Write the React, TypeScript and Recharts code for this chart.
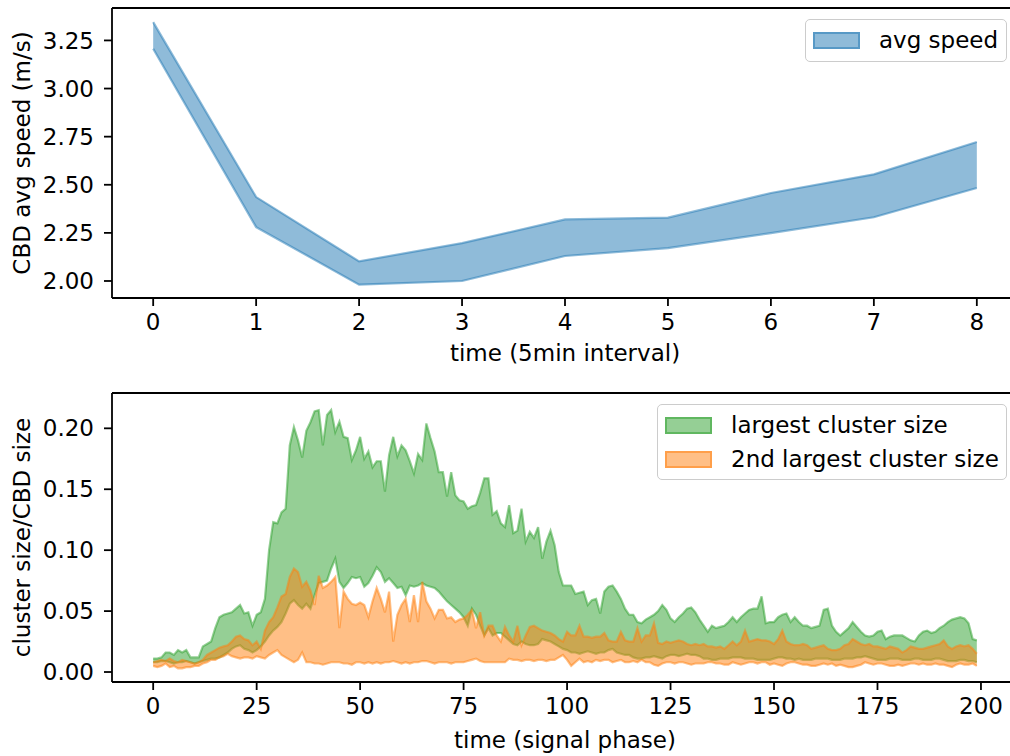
import React from 'react';
import { AreaChart, Area, XAxis, YAxis, Label } from 'recharts';

// top panel: avg speed band per 5-minute interval
const intervals = [0, 1, 2, 3, 4, 5, 6, 7, 8];
const speedLow = [3.207, 2.28, 1.981, 2.0, 2.13, 2.171, 2.249, 2.331, 2.483];
const speedHigh = [3.345, 2.436, 2.102, 2.197, 2.32, 2.329, 2.457, 2.554, 2.722];
const speedTicks = [2.0, 2.25, 2.5, 2.75, 3.0, 3.25];

// bottom panel: cluster size bands per signal phase (0..199)
const phaseTicks = [0, 25, 50, 75, 100, 125, 150, 175, 200];
const clusterTicks = [0, 0.05, 0.1, 0.15, 0.2];

const largestHigh = [
  0.011, 0.011, 0.012, 0.016, 0.016, 0.014, 0.018, 0.016, 0.018, 0.012,
  0.012, 0.012, 0.021, 0.023, 0.025, 0.036, 0.045, 0.047, 0.048, 0.049,
  0.052, 0.055, 0.048, 0.049, 0.038, 0.047, 0.049, 0.06, 0.1, 0.123,
  0.122, 0.131, 0.134, 0.186, 0.201, 0.19, 0.176, 0.198, 0.205, 0.214,
  0.215, 0.186, 0.211, 0.215, 0.197, 0.2055, 0.193, 0.192, 0.174, 0.182,
  0.193, 0.175, 0.181, 0.168, 0.173, 0.173, 0.148, 0.178, 0.193, 0.177,
  0.186, 0.182, 0.173, 0.163, 0.179, 0.174, 0.204, 0.192, 0.181, 0.164,
  0.164, 0.144, 0.164, 0.145, 0.141, 0.14, 0.134, 0.136, 0.137, 0.147,
  0.159, 0.159, 0.129, 0.132, 0.122, 0.119, 0.137, 0.114, 0.116, 0.134,
  0.107, 0.115, 0.11, 0.119, 0.093, 0.107, 0.116, 0.104, 0.082, 0.071,
  0.071, 0.071, 0.064, 0.065, 0.066, 0.055, 0.059, 0.06, 0.048, 0.066,
  0.07, 0.071, 0.066, 0.06, 0.052, 0.047, 0.047, 0.041, 0.04, 0.043,
  0.045, 0.047, 0.05, 0.055, 0.051, 0.044, 0.041, 0.045, 0.048, 0.052,
  0.053, 0.049, 0.043, 0.038, 0.033, 0.038, 0.036, 0.037, 0.038, 0.041,
  0.045, 0.041, 0.045, 0.048, 0.051, 0.052, 0.052, 0.062, 0.04, 0.041,
  0.041, 0.045, 0.047, 0.048, 0.041, 0.045, 0.041, 0.038, 0.038, 0.036,
  0.037, 0.038, 0.051, 0.052, 0.038, 0.033, 0.03, 0.033, 0.036, 0.041,
  0.037, 0.033, 0.03, 0.029, 0.03, 0.033, 0.034, 0.027, 0.029, 0.03,
  0.03, 0.03, 0.028, 0.026, 0.025, 0.03, 0.033, 0.034, 0.032, 0.033,
  0.036, 0.038, 0.041, 0.043, 0.044, 0.045, 0.044, 0.04, 0.027, 0.026,
];

const largestLow = [
  0.008, 0.008, 0.009, 0.009, 0.008, 0.007, 0.008, 0.008, 0.009, 0.008,
  0.007, 0.008, 0.009, 0.01, 0.011, 0.011, 0.012, 0.014, 0.016, 0.019,
  0.021, 0.022, 0.019, 0.018, 0.016, 0.018, 0.021, 0.025, 0.03, 0.034,
  0.037, 0.041, 0.048, 0.056, 0.059, 0.055, 0.052, 0.056, 0.052, 0.063,
  0.073, 0.074, 0.075, 0.085, 0.093, 0.074, 0.069, 0.073, 0.078, 0.077,
  0.078, 0.07, 0.073, 0.079, 0.086, 0.082, 0.074, 0.077, 0.073, 0.069,
  0.07, 0.063, 0.071, 0.07, 0.071, 0.073, 0.071, 0.07, 0.069, 0.066,
  0.062, 0.058, 0.055, 0.052, 0.049, 0.045, 0.038, 0.052, 0.047, 0.038,
  0.03, 0.036, 0.03, 0.032, 0.032, 0.029, 0.026, 0.023, 0.022, 0.025,
  0.023, 0.022, 0.022, 0.023, 0.027, 0.026, 0.025, 0.023, 0.021, 0.019,
  0.018, 0.016, 0.016, 0.015, 0.016, 0.017, 0.016, 0.015, 0.016, 0.016,
  0.018, 0.019, 0.016, 0.015, 0.014, 0.014, 0.012, 0.011, 0.011, 0.012,
  0.012, 0.013, 0.012, 0.011, 0.013, 0.014, 0.014, 0.013, 0.014, 0.015,
  0.014, 0.014, 0.013, 0.011, 0.011, 0.01, 0.01, 0.011, 0.011, 0.011,
  0.012, 0.012, 0.012, 0.011, 0.011, 0.011, 0.01, 0.01, 0.01, 0.01,
  0.011, 0.012, 0.012, 0.011, 0.011, 0.01, 0.011, 0.01, 0.01, 0.01,
  0.011, 0.011, 0.011, 0.011, 0.01, 0.01, 0.01, 0.011, 0.011, 0.011,
  0.012, 0.012, 0.013, 0.012, 0.011, 0.01, 0.01, 0.01, 0.011, 0.011,
  0.011, 0.01, 0.01, 0.01, 0.011, 0.011, 0.01, 0.01, 0.01, 0.011,
  0.011, 0.01, 0.009, 0.009, 0.009, 0.01, 0.01, 0.009, 0.009, 0.008,
];

const secondHigh = [
  0.008, 0.009, 0.01, 0.009, 0.011, 0.009, 0.008, 0.01, 0.009, 0.008,
  0.007, 0.008, 0.01, 0.014, 0.016, 0.018, 0.02, 0.021, 0.022, 0.025,
  0.029, 0.03, 0.027, 0.026, 0.022, 0.025, 0.019, 0.034, 0.041, 0.045,
  0.053, 0.062, 0.064, 0.078, 0.085, 0.082, 0.07, 0.074, 0.067, 0.055,
  0.079, 0.069, 0.071, 0.074, 0.078, 0.036, 0.066, 0.06, 0.056, 0.055,
  0.057, 0.055, 0.045, 0.058, 0.069, 0.06, 0.049, 0.066, 0.025, 0.047,
  0.055, 0.06, 0.041, 0.063, 0.041, 0.074, 0.058, 0.052, 0.044, 0.051,
  0.051, 0.044, 0.045, 0.041, 0.043, 0.044, 0.047, 0.051, 0.036, 0.049,
  0.03, 0.038, 0.038, 0.03, 0.025, 0.037, 0.03, 0.025, 0.038, 0.022,
  0.03, 0.037, 0.038, 0.036, 0.034, 0.033, 0.032, 0.03, 0.027, 0.025,
  0.033, 0.03, 0.03, 0.038, 0.029, 0.029, 0.028, 0.029, 0.029, 0.032,
  0.026, 0.025, 0.025, 0.033, 0.026, 0.025, 0.025, 0.036, 0.025, 0.03,
  0.03, 0.04, 0.024, 0.023, 0.025, 0.024, 0.025, 0.026, 0.025, 0.023,
  0.022, 0.023, 0.022, 0.023, 0.021, 0.021, 0.02, 0.021, 0.019, 0.022,
  0.025, 0.022, 0.025, 0.034, 0.025, 0.026, 0.027, 0.026, 0.026, 0.025,
  0.023, 0.027, 0.034, 0.025, 0.023, 0.022, 0.022, 0.023, 0.022, 0.019,
  0.02, 0.021, 0.022, 0.019, 0.018, 0.018, 0.019, 0.022, 0.023, 0.027,
  0.025, 0.023, 0.022, 0.023, 0.021, 0.021, 0.02, 0.019, 0.021, 0.02,
  0.019, 0.016, 0.018, 0.021, 0.02, 0.019, 0.019, 0.02, 0.021, 0.022,
  0.023, 0.026, 0.021, 0.019, 0.021, 0.022, 0.021, 0.022, 0.019, 0.015,
];

const secondLow = [
  0.005, 0.004, 0.005, 0.007, 0.004, 0.005, 0.003, 0.003, 0.004, 0.004,
  0.005, 0.005, 0.007, 0.008, 0.01, 0.01, 0.012, 0.013, 0.015, 0.013,
  0.012, 0.011, 0.012, 0.012, 0.011, 0.013, 0.012, 0.011, 0.014, 0.016,
  0.018, 0.014, 0.012, 0.01, 0.008, 0.01, 0.016, 0.008, 0.008, 0.007,
  0.007, 0.006, 0.007, 0.008, 0.008, 0.008, 0.007, 0.007, 0.006, 0.008,
  0.008, 0.007, 0.008, 0.007, 0.008, 0.007, 0.008, 0.008, 0.009, 0.008,
  0.007, 0.008, 0.007, 0.008, 0.008, 0.009, 0.009, 0.008, 0.007, 0.008,
  0.008, 0.008, 0.007, 0.008, 0.008, 0.008, 0.009, 0.01, 0.011, 0.009,
  0.008, 0.008, 0.008, 0.008, 0.008, 0.008, 0.011, 0.01, 0.01, 0.009,
  0.01, 0.01, 0.009, 0.01, 0.01, 0.009, 0.01, 0.01, 0.012, 0.014,
  0.01, 0.005, 0.008, 0.011, 0.008, 0.009, 0.008, 0.01, 0.009, 0.01,
  0.01, 0.008, 0.009, 0.01, 0.008, 0.008, 0.009, 0.008, 0.01, 0.008,
  0.008, 0.006, 0.005, 0.007, 0.008, 0.008, 0.007, 0.008, 0.008, 0.007,
  0.006, 0.007, 0.007, 0.007, 0.008, 0.008, 0.007, 0.007, 0.006, 0.006,
  0.008, 0.007, 0.006, 0.007, 0.008, 0.008, 0.007, 0.008, 0.008, 0.006,
  0.007, 0.006, 0.005, 0.007, 0.008, 0.008, 0.007, 0.006, 0.006, 0.005,
  0.005, 0.006, 0.007, 0.006, 0.007, 0.005, 0.006, 0.005, 0.004, 0.004,
  0.005, 0.006, 0.008, 0.007, 0.006, 0.007, 0.007, 0.006, 0.005, 0.005,
  0.006, 0.005, 0.006, 0.007, 0.007, 0.006, 0.007, 0.006, 0.006, 0.007,
  0.006, 0.006, 0.005, 0.004, 0.006, 0.007, 0.006, 0.006, 0.007, 0.005,
];

const speedData = intervals.map((t, i) => ({ t, speed: [speedLow[i], speedHigh[i]] }));
const clusterData = largestHigh.map((_, i) => ({
  t: i,
  largest: [largestLow[i], largestHigh[i]],
  second: [secondLow[i], secondHigh[i]],
}));

const FONT = 'DejaVu Sans, sans-serif';
const FS = 23;
const tickStyle = { fill: '#000', fontSize: FS, fontFamily: FONT };
const axisLine = { stroke: '#000', strokeWidth: 1.8 };
const tickLine = { stroke: '#000', strokeWidth: 1.8 };

const yTitle = (text: string) => (props: any) => {
  const vb = props.viewBox || { x: 0, y: 0, width: 0, height: 0 };
  const cx = vb.x + 22;
  const cy = vb.y + vb.height / 2;
  return (
    <text x={cx} y={cy} transform={`rotate(-90, ${cx}, ${cy})`} textAnchor="middle"
      dominantBaseline="central" fontSize={FS} fontFamily={FONT} fill="#000">
      {text}
    </text>
  );
};

const xTitle = (text: string, dy: number) => (props: any) => {
  const vb = props.viewBox || { x: 0, y: 0, width: 0, height: 0 };
  return (
    <text x={vb.x + 453} y={vb.y + dy} textAnchor="middle" dominantBaseline="central"
      fontSize={FS} fontFamily={FONT} fill="#000">
      {text}
    </text>
  );
};

const LegendBox = ({ items, style }: { items: { label: string; color: string }[]; style: React.CSSProperties }) => (
  <div style={{
    position: 'absolute', background: 'rgba(255,255,255,0.8)', border: '1.5px solid #cccccc',
    borderRadius: 5, boxSizing: 'border-box', ...style,
  }}>
    {items.map((it, i) => (
      <div key={it.label} style={{ position: 'absolute', left: 7, top: 11 + i * 34, height: 18, display: 'flex', alignItems: 'center' }}>
        <div style={{
          width: 47, height: 17, boxSizing: 'border-box', background: it.color + '80',
          border: `2px solid ${it.color}80`,
        }} />
        <span style={{ marginLeft: 19, fontSize: FS, fontFamily: FONT, color: '#000', whiteSpace: 'nowrap', lineHeight: '18px' }}>
          {it.label}
        </span>
      </div>
    ))}
  </div>
);

export default function App() {
  return (
    <div style={{ position: 'absolute', left: 0, top: 0, width: 1010, height: 756, overflow: 'hidden', background: '#fff' }}>
      <div style={{ position: 'absolute', left: 0, top: 0 }}>
        <AreaChart width={1030} height={370} data={speedData} margin={{ top: 7, right: 12, bottom: 0, left: 0 }}>
          <XAxis xAxisId="top" orientation="top" type="number" dataKey="t" domain={[-0.4, 8.4]}
            allowDataOverflow tick={false} tickLine={false} height={1} axisLine={axisLine} />
          <XAxis type="number" dataKey="t" domain={[-0.4, 8.4]} allowDataOverflow ticks={intervals}
            interval={0} height={72} tickSize={8} tickMargin={8} tick={tickStyle} tickLine={tickLine} axisLine={axisLine}>
            <Label content={xTitle('time (5min interval)', 55)} />
          </XAxis>
          <YAxis type="number" domain={[1.9116, 3.4185]} allowDataOverflow ticks={speedTicks} interval={0}
            width={112} tickSize={8} tickMargin={10} tick={tickStyle} tickLine={tickLine} axisLine={axisLine}
            tickFormatter={(v: number) => v.toFixed(2)}>
            <Label content={yTitle('CBD avg speed (m/s)')} />
          </YAxis>
          <Area type="linear" dataKey="speed" stroke="#1f77b4" strokeOpacity={0.5} strokeWidth={2.2}
            fill="#1f77b4" fillOpacity={0.5} dot={false} activeDot={false} isAnimationActive={false} />
        </AreaChart>
        <LegendBox items={[{ label: 'avg speed', color: '#1f77b4' }]}
          style={{ left: 805, top: 19, width: 202, height: 43 }} />
      </div>
      <div style={{ position: 'absolute', left: 0, top: 385 }}>
        <AreaChart width={1030} height={371} data={clusterData} margin={{ top: 7, right: 12, bottom: 0, left: 0 }}>
          <XAxis xAxisId="top" orientation="top" type="number" dataKey="t" domain={[-9.95, 208.95]}
            allowDataOverflow tick={false} tickLine={false} height={1} axisLine={axisLine} />
          <XAxis type="number" dataKey="t" domain={[-9.95, 208.95]} allowDataOverflow ticks={phaseTicks}
            interval={0} height={74} tickSize={8} tickMargin={8} tick={tickStyle} tickLine={tickLine} axisLine={axisLine}>
            <Label content={xTitle('time (signal phase)', 58)} />
          </XAxis>
          <YAxis type="number" domain={[-0.0082, 0.229]} allowDataOverflow ticks={clusterTicks} interval={0}
            width={112} tickSize={8} tickMargin={10} tick={tickStyle} tickLine={tickLine} axisLine={axisLine}
            tickFormatter={(v: number) => v.toFixed(2)}>
            <Label content={yTitle('cluster size/CBD size')} />
          </YAxis>
          <Area type="linear" dataKey="largest" stroke="#2ca02c" strokeOpacity={0.5} strokeWidth={2.2}
            fill="#2ca02c" fillOpacity={0.5} dot={false} activeDot={false} isAnimationActive={false} />
          <Area type="linear" dataKey="second" stroke="#ff7f0e" strokeOpacity={0.5} strokeWidth={2.2}
            fill="#ff7f0e" fillOpacity={0.5} dot={false} activeDot={false} isAnimationActive={false} />
        </AreaChart>
        <LegendBox items={[
          { label: 'largest cluster size', color: '#2ca02c' },
          { label: '2nd largest cluster size', color: '#ff7f0e' },
        ]} style={{ left: 657, top: 19, width: 350, height: 76 }} />
      </div>
    </div>
  );
}
